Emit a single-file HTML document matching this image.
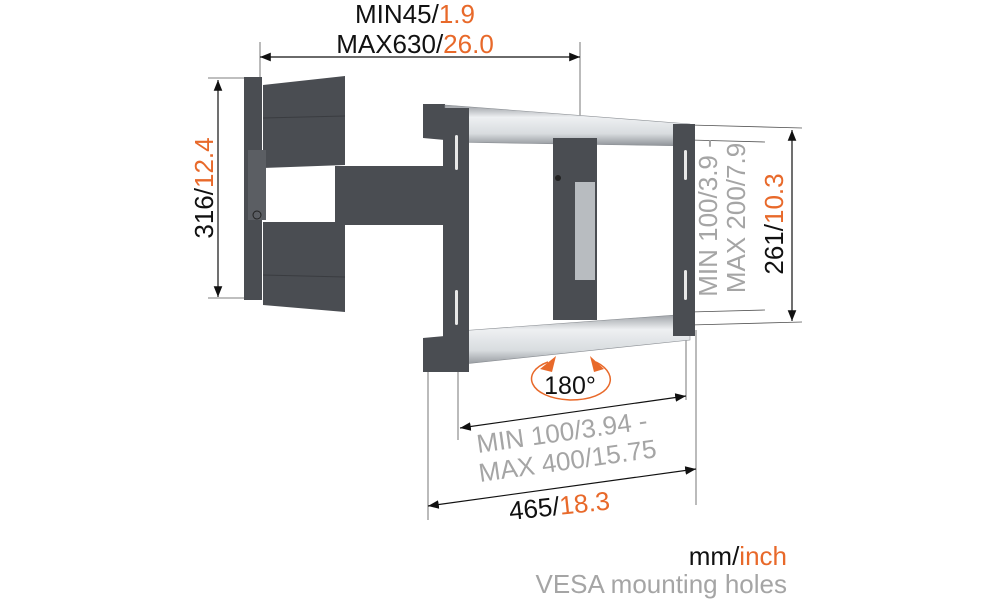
<!DOCTYPE html>
<html><head><meta charset="utf-8"><style>
html,body{margin:0;padding:0;background:#fff;}
svg{display:block;font-family:"Liberation Sans",sans-serif;}
</style></head><body>
<svg width="1000" height="600" viewBox="0 0 1000 600" xmlns="http://www.w3.org/2000/svg">
<defs>
<marker id="a" viewBox="0 0 10 10" refX="10" refY="5" markerWidth="9" markerHeight="9" orient="auto-start-reverse"><path d="M0,1 L10,5 L0,9 z" fill="#111"/></marker>
<marker id="o" viewBox="0 0 10 10" refX="10" refY="5" markerWidth="7" markerHeight="7" orient="auto"><path d="M0,0 L10,5 L0,10 z" fill="#e8692a"/></marker>
<linearGradient id="s" x1="0" y1="0" x2="0" y2="1"><stop offset="0" stop-color="#9a9ea3"/><stop offset=".3" stop-color="#eef0f2"/><stop offset=".7" stop-color="#d8dcdf"/><stop offset="1" stop-color="#8e9297"/></linearGradient>
</defs>
<!-- extension lines -->
<g stroke="#555" stroke-width="0.8" fill="none">
<line x1="260" y1="42" x2="260" y2="80"/><line x1="580" y1="42" x2="580" y2="200"/>
<line x1="208" y1="78" x2="244" y2="78"/><line x1="208" y1="298" x2="244" y2="298"/>
<line x1="428" y1="340" x2="428" y2="520"/><line x1="458" y1="370" x2="458" y2="440"/>
<line x1="686" y1="330" x2="686" y2="400"/><line x1="696" y1="330" x2="696" y2="505"/>
<line x1="690" y1="125" x2="802" y2="128"/><line x1="690" y1="325" x2="802" y2="322"/>
<line x1="690" y1="140" x2="765" y2="142"/><line x1="690" y1="312" x2="765" y2="310"/>
</g>
<!-- dimension lines -->
<g stroke="#111" stroke-width="1.2" fill="none" marker-start="url(#a)" marker-end="url(#a)">
<line x1="260" y1="57" x2="580" y2="57"/>
<line x1="218" y1="80" x2="218" y2="297"/>
<line x1="792" y1="130" x2="792" y2="321"/>
<line x1="460" y1="428" x2="686" y2="396"/>
<line x1="428" y1="506" x2="696" y2="469"/>
</g>
<!-- mount -->
<g fill="#4a4d52">
<polygon points="263,85 345,76 345,165 263,168"/>
<polygon points="263,222 345,222 345,312 263,305"/>
<rect x="244" y="77" width="18" height="223"/>
<rect x="248" y="150" width="18" height="70" fill="#5b5e63"/>
<rect x="335" y="166" width="117" height="59"/>
<polygon points="423,104 445,104 445,140 423,138"/>
<polygon points="423,338 445,336 445,372 423,372"/>
</g>
<g stroke="#3a3c40" stroke-width="1" fill="none">
<line x1="263" y1="118" x2="345" y2="116"/><line x1="263" y1="275" x2="345" y2="277"/>
</g>
<circle cx="257" cy="215" r="4" fill="none" stroke="#222"/>
<polygon points="445,105 690,124 690,146 445,142" fill="url(#s)" stroke="#8a8e93" stroke-width=".6"/>
<polygon points="445,332 690,314 690,340 445,366" fill="url(#s)" stroke="#8a8e93" stroke-width=".6"/>
<rect x="443" y="108" width="26" height="264" fill="#4a4d52"/>
<rect x="673" y="124" width="22" height="212" fill="#4a4d52"/>
<g fill="#e8e8e8"><rect x="455" y="135" width="3" height="35" rx="1.5"/><rect x="455" y="290" width="3" height="35" rx="1.5"/><rect x="684" y="150" width="3" height="30" rx="1.5"/><rect x="684" y="270" width="3" height="30" rx="1.5"/></g>
<rect x="553" y="138" width="44" height="182" fill="#4a4d52"/>
<rect x="575" y="182" width="20" height="98" fill="#b8bcc0"/>
<circle cx="558" cy="178" r="3" fill="#222"/>
<!-- 180 -->
<path d="M548,362 C520,372 528,398 570,400 C612,400 622,375 596,362" fill="none" stroke="#e8692a" stroke-width="1.5"/>
<path d="M540,369 L556,356 L552,372 z" fill="#e8692a"/><path d="M604,369 L590,356 L594,372 z" fill="#e8692a"/>
<text x="570" y="394" font-size="25" text-anchor="middle" fill="#111">180°</text>
<!-- texts -->
<g font-size="26">
<text x="415" y="23" text-anchor="middle" fill="#111">MIN45/<tspan fill="#e8692a">1.9</tspan></text>
<text x="415" y="53" text-anchor="middle" fill="#111">MAX630/<tspan fill="#e8692a">26.0</tspan></text>
<text transform="translate(213,188) rotate(-90)" text-anchor="middle" fill="#111">316/<tspan fill="#e8692a">12.4</tspan></text>
<text transform="translate(783,224) rotate(-90)" text-anchor="middle" fill="#111">261/<tspan fill="#e8692a">10.3</tspan></text>
<text transform="translate(717,218) rotate(-90)" text-anchor="middle" fill="#a5a5a5">MIN 100/3.9 -</text>
<text transform="translate(745,218) rotate(-90)" text-anchor="middle" fill="#a5a5a5">MAX 200/7.9</text>
<text transform="translate(478,453) rotate(-8)" fill="#a5a5a5">MIN 100/3.94 -</text>
<text transform="translate(480,482) rotate(-8)" fill="#a5a5a5">MAX 400/15.75</text>
<text transform="translate(510,520) rotate(-6)" fill="#111">465/<tspan fill="#e8692a">18.3</tspan></text>
<text x="787" y="565" text-anchor="end" fill="#111">mm/<tspan fill="#e8692a">inch</tspan></text>
<text x="787" y="593" text-anchor="end" fill="#a5a5a5">VESA mounting holes</text>
</g>
</svg>
</body></html>
